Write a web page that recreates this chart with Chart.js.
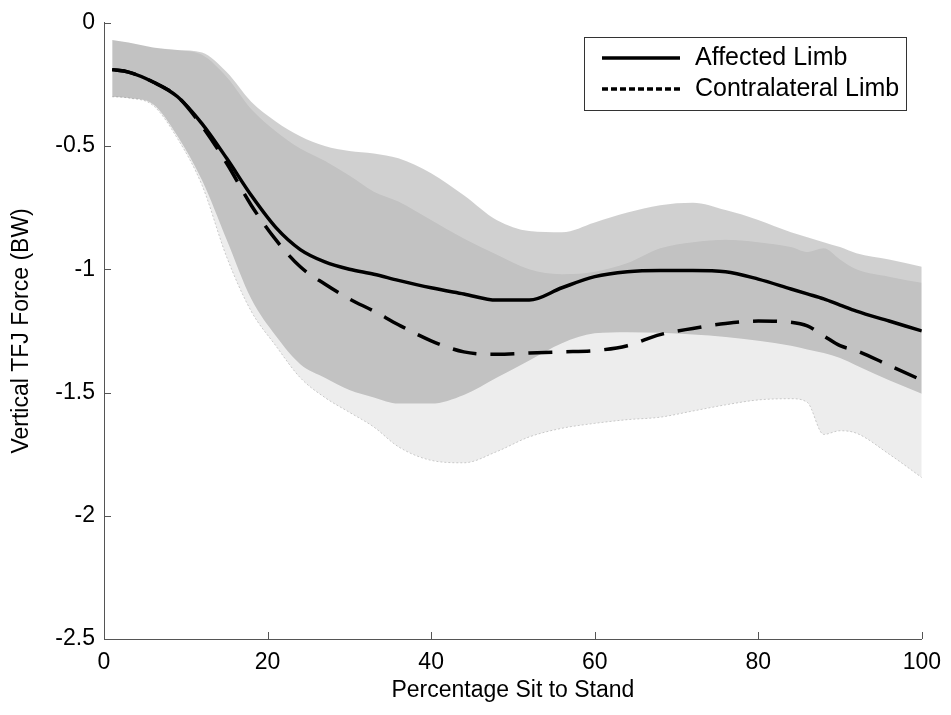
<!DOCTYPE html>
<html lang="en">
<head>
  <meta charset="utf-8">
  <title>Vertical TFJ Force</title>
  <script src="https://cdn.jsdelivr.net/npm/chart.js"></script>
  <style>
    body { margin: 0; background: #fff; }
    #wrap { width: 951px; height: 715px; }
  </style>
</head>
<body>
<div id="wrap"><canvas id="forceChart"></canvas></div>

<script>
  // percentage of sit-to-stand cycle
  const pct = [1, 3, 6, 9, 12, 15, 18, 21, 24, 27, 30, 33, 36, 40, 44, 48, 52, 56, 60, 64, 68, 72, 76, 80, 84, 86, 88, 90, 92, 96, 100];

  const affectedMean = [-0.19, -0.20, -0.24, -0.30, -0.41, -0.55, -0.70, -0.83, -0.92, -0.97, -1.00, -1.02, -1.045, -1.075, -1.10, -1.125, -1.125, -1.075, -1.03, -1.01, -1.005, -1.005, -1.01, -1.04, -1.08, -1.10, -1.12, -1.145, -1.17, -1.21, -1.25];
  const contraMean = [-0.19, -0.20, -0.24, -0.30, -0.42, -0.57, -0.74, -0.88, -0.99, -1.06, -1.12, -1.17, -1.225, -1.29, -1.335, -1.345, -1.34, -1.335, -1.33, -1.31, -1.265, -1.24, -1.22, -1.21, -1.215, -1.23, -1.27, -1.31, -1.33, -1.39, -1.45];

  const affectedUpper = [-0.07, -0.08, -0.10, -0.11, -0.12, -0.20, -0.32, -0.40, -0.46, -0.50, -0.52, -0.53, -0.55, -0.61, -0.70, -0.80, -0.845, -0.85, -0.81, -0.77, -0.74, -0.73, -0.76, -0.80, -0.85, -0.87, -0.89, -0.91, -0.935, -0.96, -0.99];
  const affectedLower = [-0.30, -0.305, -0.33, -0.46, -0.64, -0.88, -1.12, -1.27, -1.385, -1.44, -1.49, -1.52, -1.545, -1.545, -1.51, -1.44, -1.37, -1.30, -1.26, -1.255, -1.258, -1.265, -1.275, -1.29, -1.31, -1.325, -1.34, -1.36, -1.39, -1.45, -1.505];
  const contraUpper = [-0.07, -0.08, -0.10, -0.11, -0.13, -0.22, -0.35, -0.44, -0.51, -0.56, -0.62, -0.685, -0.725, -0.80, -0.875, -0.94, -1.00, -1.02, -1.01, -0.975, -0.915, -0.89, -0.88, -0.89, -0.91, -0.93, -0.915, -0.96, -1.00, -1.03, -1.055];
  const contraLower = [-0.30, -0.305, -0.335, -0.47, -0.66, -0.95, -1.17, -1.31, -1.44, -1.52, -1.58, -1.64, -1.72, -1.775, -1.785, -1.74, -1.68, -1.645, -1.625, -1.61, -1.60, -1.575, -1.55, -1.53, -1.525, -1.54, -1.67, -1.655, -1.665, -1.75, -1.845];

  const xTicks = [0, 20, 40, 60, 80, 100];
  const yTicks = [0, -0.5, -1, -1.5, -2, -2.5];

  const FONT = "'Liberation Sans', Arial, sans-serif";

  function pts(values) {
    return pct.map((p, i) => ({ x: p, y: values[i] }));
  }

  function band(values, fill, color, extra) {
    return Object.assign({
      data: pts(values),
      borderWidth: 0,
      pointRadius: 0,
      fill: fill,
      backgroundColor: color,
      cubicInterpolationMode: 'monotone'
    }, extra || {});
  }

  // matlab style ticks pointing into the axes
  const innerTicks = {
    id: 'innerTicks',
    afterDraw(chart) {
      const ctx = chart.ctx;
      const xs = chart.scales.x, ys = chart.scales.y;
      ctx.save();
      ctx.strokeStyle = '#555';
      ctx.lineWidth = 1;
      ctx.beginPath();
      xTicks.forEach(v => {
        const px = Math.round(xs.getPixelForValue(v)) + 0.5;
        ctx.moveTo(px, ys.bottom);
        ctx.lineTo(px, ys.bottom - 7);
      });
      yTicks.forEach(v => {
        const py = Math.round(ys.getPixelForValue(v)) + 0.5;
        ctx.moveTo(xs.left, py);
        ctx.lineTo(xs.left + 7, py);
      });
      ctx.stroke();
      ctx.restore();
    }
  };

  const boxLegend = {
    id: 'boxLegend',
    afterDraw(chart) {
      const ctx = chart.ctx;
      ctx.save();
      ctx.fillStyle = '#fff';
      ctx.fillRect(584.5, 37.5, 322, 73);
      ctx.strokeStyle = '#333';
      ctx.lineWidth = 1;
      ctx.strokeRect(584.5, 37.5, 322, 73);

      const rows = [
        { label: chart.data.datasets[0].label, y: 58, dash: [] },
        { label: chart.data.datasets[1].label, y: 89, dash: [6, 3] }
      ];
      rows.forEach(r => {
        ctx.strokeStyle = '#000';
        ctx.lineWidth = 3.5;
        ctx.setLineDash(r.dash);
        ctx.beginPath();
        ctx.moveTo(602, r.y);
        ctx.lineTo(680, r.y);
        ctx.stroke();
        ctx.setLineDash([]);
        ctx.fillStyle = '#000';
        ctx.font = '25px ' + FONT;
        ctx.textBaseline = 'middle';
        ctx.fillText(r.label, 695, r.y);
      });
      ctx.restore();
    }
  };

  const ctx = document.getElementById('forceChart').getContext('2d');
  new Chart(ctx, {
    type: 'line',
    data: {
      datasets: [
        {
          label: 'Affected Limb',
          data: pts(affectedMean),
          borderColor: '#000',
          borderWidth: 3.5,
          pointRadius: 0,
          fill: false,
          cubicInterpolationMode: 'monotone'
        },
        {
          label: 'Contralateral Limb',
          data: pts(contraMean),
          borderColor: '#000',
          borderWidth: 3.5,
          borderDash: [24, 14],
          pointRadius: 0,
          fill: false,
          cubicInterpolationMode: 'monotone'
        },
        band(affectedUpper, false, 'transparent'),
        band(affectedLower, '-1', 'rgba(0,0,0,0.185)'),
        band(contraUpper, false, 'transparent'),
        band(contraLower, '-1', 'rgba(0,0,0,0.07)', { borderWidth: 1, borderColor: '#c8c8c8', borderDash: [2, 2] })
      ]
    },
    options: {
      responsive: true,
      maintainAspectRatio: false,
      animation: false,
      layout: { padding: { top: 21, right: 26, left: 0, bottom: 0 } },
      plugins: {
        legend: { display: false },
        tooltip: { enabled: false }
      },
      scales: {
        x: {
          type: 'linear',
          min: 0,
          max: 100,
          afterFit: s => { s.height = 76; },
          afterBuildTicks: s => { s.ticks = xTicks.map(v => ({ value: v })); },
          grid: { display: false, drawTicks: false },
          border: { display: true, color: '#555', width: 1 },
          ticks: { color: '#000', padding: 10, font: { family: FONT, size: 23 }, callback: v => String(v) },
          title: {
            display: true,
            text: 'Percentage Sit to Stand',
            color: '#000',
            font: { family: FONT, size: 23 },
            padding: { top: 0, bottom: 11 }
          }
        },
        y: {
          min: -2.5,
          max: 0,
          afterFit: s => { s.width = 104; },
          afterBuildTicks: s => { s.ticks = yTicks.map(v => ({ value: v })); },
          grid: { display: false, drawTicks: false },
          border: { display: true, color: '#555', width: 1 },
          ticks: { color: '#000', padding: 9, font: { family: FONT, size: 23 }, callback: v => String(v) },
          title: {
            display: true,
            text: 'Vertical TFJ Force (BW)',
            color: '#000',
            font: { family: FONT, size: 23 },
            padding: { top: 8, bottom: 0 }
          }
        }
      }
    },
    plugins: [innerTicks, boxLegend]
  });
</script>
</body>
</html>
